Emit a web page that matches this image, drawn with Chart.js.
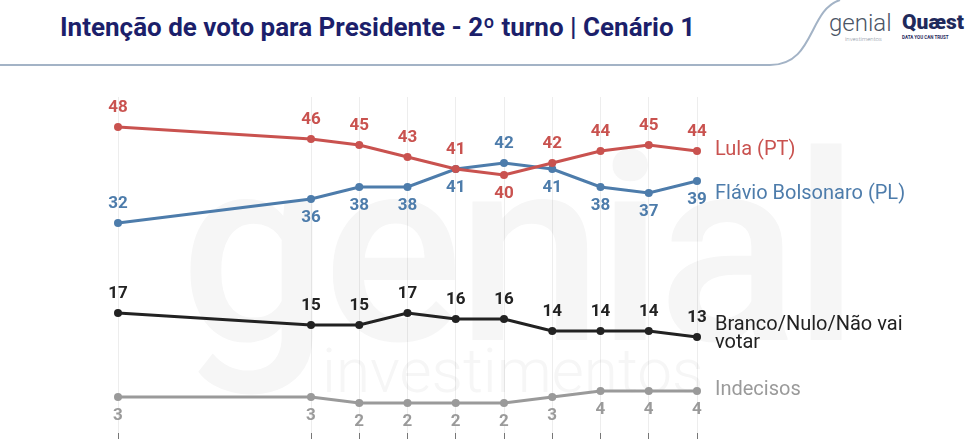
<!DOCTYPE html>
<html lang="pt-BR">
<head>
<meta charset="utf-8">
<title>Intenção de voto para Presidente - 2º turno</title>
<script src="https://cdn.jsdelivr.net/npm/chart.js@4.4.1/dist/chart.umd.min.js"></script>
<style>
  html, body { margin: 0; padding: 0; background: #fff; overflow: hidden; }
  #page { position: relative; width: 971px; height: 439px; font-family: Roboto, "Noto Sans", sans-serif; }
  #titulo { position: absolute; left: 60px; top: 12px; font-size: 26px; font-weight: 700; color: #1c1f6b; white-space: nowrap; }
  #moldura { position: absolute; left: 0; top: 0; }
  .wm { position: absolute; color: #f6f6f6; white-space: nowrap; line-height: 1; }
  #wm1 { left: 180px; top: 120px; font-size: 262px; font-weight: 500; letter-spacing: -6px; }
  #wm2 { left: 322px; top: 340px; font-size: 62px; font-weight: 300; }
  #logo-genial { position: absolute; left: 829px; top: 9px; color: #4b5566; font-size: 24px; font-weight: 300; }
  #logo-genial small { display: block; font-size: 6px; color: #8a94a3; margin-left: 16px; margin-top: -2px; }
  #logo-quaest { position: absolute; left: 902px; top: 10px; color: #1f2a5c; font-size: 21px; font-weight: 900; }
  #logo-quaest small { display: block; font-size: 4.5px; font-weight: 700; margin-top: 1px; }
  #cht { position: absolute; left: 0; top: 0; }
</style>
</head>
<body>
<div id="page">
  <div class="wm" id="wm1">genial</div>
  <div class="wm" id="wm2">investimentos</div>
  <svg id="moldura" width="971" height="439">
    <path d="M0 65 L770 65 C 815 65, 808 10, 840 0" fill="none" stroke="#a3b3c6" stroke-width="2"/>
  </svg>
  <div id="titulo">Intenção de voto para Presidente - 2º turno | Cenário 1</div>
  <div id="logo-genial">genial<small>investimentos</small></div>
  <div id="logo-quaest">Quæst<small>DATA YOU CAN TRUST</small></div>
  <canvas id="cht" width="971" height="439"></canvas>
</div>
<script>
// rodadas da pesquisa (meses a partir da primeira)
let rodadas = [0, 4, 5, 6, 7, 8, 9, 10, 11, 12]

let lula = [48, 46, 45, 43, 41, 40, 42, 44, 45, 44]
let flavio = [32, 36, 38, 38, 41, 42, 41, 38, 37, 39]
let branco = [17, 15, 15, 17, 16, 16, 14, 14, 14, 13]
let indecisos = [3, 3, 2, 2, 2, 2, 3, 4, 4, 4]

let nomes = ['Lula (PT)', 'Flávio Bolsonaro (PL)', ['Branco/Nulo/Não vai', 'votar'], 'Indecisos']

function pts(vals) {
  return vals.map((v, i) => ({ x: rodadas[i], y: v }))
}

// 1 = rotulo acima do ponto, -1 = abaixo
let posLula = [1, 1, 1, 1, 1, -1, 1, 1, 1, 1]
let posFlavio = [1, -1, -1, -1, -1, 1, -1, -1, -1, -1]

function serie(label, vals, cor, pos, nome, dy) {
  return {
    label: label,
    data: pts(vals),
    borderColor: cor,
    backgroundColor: cor,
    pointBackgroundColor: cor,
    pointBorderWidth: 0,
    pointRadius: 4,
    borderWidth: 3,
    clip: false,
    tension: 0,
    txtColor: cor,
    labelPos: pos,
    endName: nome,
    endDy: dy
  }
}

const rotulos = {
  id: 'rotulos',
  afterDatasetsDraw(chart) {
    const ctx = chart.ctx
    ctx.save()
    chart.data.datasets.forEach((ds, di) => {
      const meta = chart.getDatasetMeta(di)
      ctx.fillStyle = ds.txtColor
      ctx.font = 'bold 17px Roboto'
      ctx.textAlign = 'center'
      ctx.textBaseline = 'middle'
      meta.data.forEach((p, i) => {
        let dir = ds.labelPos[i]
        ctx.fillText(ds.data[i].y, p.x, p.y - dir * 19)
      })
      // nome da serie no fim da linha
      let last = meta.data[meta.data.length - 1]
      ctx.font = '20px Roboto'
      ctx.textAlign = 'left'
      let linhas = Array.isArray(ds.endName) ? ds.endName : [ds.endName]
      linhas.forEach((t, k) => {
        ctx.fillText(t, last.x + 18, last.y + ds.endDy + k * 18)
      })
    })
    ctx.restore()
  }
}

const config = {
  type: 'line',
  data: {
    datasets: [
      serie(nomes[0], lula, '#c9524f', posLula, nomes[0], -1),
      serie(nomes[1], flavio, '#4d7cab', posFlavio, nomes[1], 13),
      serie('Branco/Nulo/Não vai votar', branco, '#222222', branco.map(() => 1), nomes[2], -12),
      serie(nomes[3], indecisos, '#9a9a9a', indecisos.map(() => -1), nomes[3], -1)
    ]
  },
  plugins: [rotulos],
  options: {
    responsive: false,
    animation: false,
    events: [],
    layout: { padding: { left: 118, right: 274, top: 97, bottom: 0 } },
    plugins: {
      legend: { display: false },
      tooltip: { enabled: false },
      title: { display: false }
    },
    scales: {
      x: {
        type: 'linear',
        min: 0,
        max: 12,
        afterBuildTicks: (scale) => {
          scale.ticks = rodadas.map(v => ({ value: v }))
        },
        ticks: { display: false },
        grid: {
          color: 'rgba(0,0,0,0.07)',
          lineWidth: 1,
          drawTicks: true,
          tickLength: 6,
          tickColor: '#777'
        },
        border: { display: false }
      },
      y: {
        display: false,
        min: -3,
        max: 53
      }
    }
  }
}

const chart = new Chart(document.getElementById('cht'), config)
</script>
</body>
</html>
